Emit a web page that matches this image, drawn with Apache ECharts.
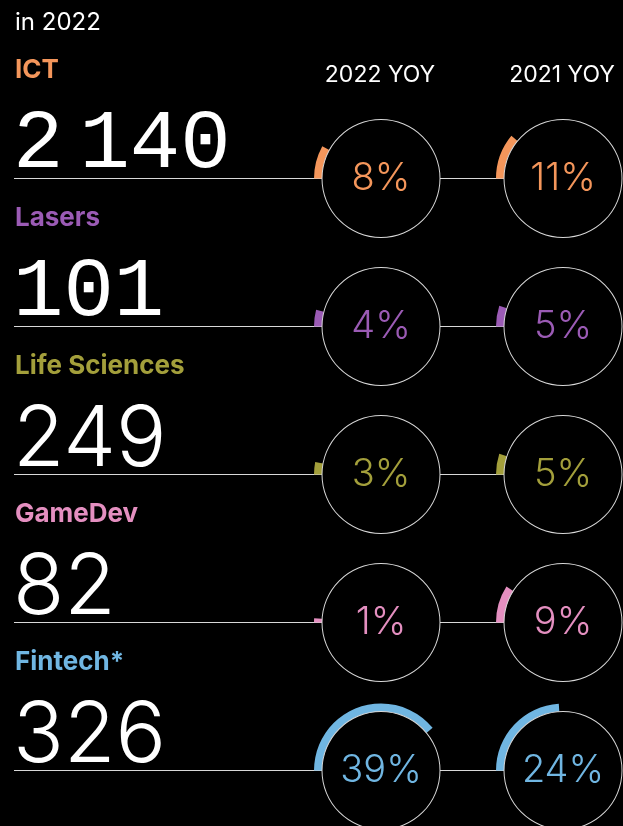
<!DOCTYPE html>
<html>
<head>
<meta charset="utf-8">
<script src="https://cdn.jsdelivr.net/npm/echarts@6/dist/echarts.min.js"></script>
<style>
  html, body { margin: 0; padding: 0; background: #000; }
  #main { width: 623px; height: 826px; }
</style>
</head>
<body>
<div id="main"></div>
<script>
// data
var categories = ['ICT', 'Lasers', 'Life Sciences', 'GameDev', 'Fintech*'];
var totals = [2140, 101, 249, 82, 326];
var yoy2022 = [8, 4, 3, 1, 39];
var yoy2021 = [11, 5, 5, 9, 24];
var columns = ['2022 YOY', '2021 YOY'];
var subtitle = 'in 2022';

var colors = ['#f4965b', '#9b5bb5', '#a39f3b', '#e48fc0', '#70b6e2'];
// the first two totals are set in a mono face, the rest in a light sans
var numberFonts = ['"Liberation Mono"', '"Liberation Mono"', 'Inter', 'Inter', 'Inter'];

var firstLine = 178.5;   // y of the first row's base line
var rowGap = 148;
var colX = [381, 563];
var rIn = 59, rOut = 67;

var myChart = echarts.init(document.getElementById('main'), null, { renderer: 'canvas' });

function fmtTotal(v) {
  var s = String(v);
  if (v >= 1000) {
    // thin gap between thousands
    return '{n|' + s.slice(0, s.length - 3) + '}{g| }{n|' + s.slice(-3) + '}';
  }
  return '{n|' + s + '}';
}

var series = [];
var graphics = [];

graphics.push({
  type: 'text', x: 15, y: 23,
  style: { text: subtitle, fill: '#fff', font: '400 24px Inter', textVerticalAlign: 'middle' }
});
columns.forEach(function (c, j) {
  graphics.push({
    type: 'text', x: colX[j] - 1, y: 75,
    style: { text: c, fill: '#fff', font: '400 23px Inter', textAlign: 'center', textVerticalAlign: 'middle' }
  });
});

categories.forEach(function (name, i) {
  var y = firstLine + i * rowGap;
  var col = colors[i];

  graphics.push({
    type: 'text', x: 15, y: y - 108,
    style: { text: name, fill: col, font: '700 26px Inter', textVerticalAlign: 'middle' }
  });
  graphics.push({
    type: 'text', x: 13, y: y + 8,
    style: {
      text: fmtTotal(totals[i]),
      fill: '#fff',
      textVerticalAlign: 'bottom',
      rich: {
        n: { fontFamily: numberFonts[i], fontSize: 84, fontWeight: i < 2 ? 400 : 300, fill: '#fff' },
        g: { width: 16, fill: '#fff' }
      }
    }
  });
  // base lines: to the first circle, and between the circles
  graphics.push({
    type: 'line', silent: true,
    shape: { x1: 14, y1: y, x2: colX[0] - rIn, y2: y },
    style: { stroke: '#d8d8d8', lineWidth: 1 }
  });
  graphics.push({
    type: 'line', silent: true,
    shape: { x1: colX[0] + rIn, y1: y, x2: colX[1] - rIn, y2: y },
    style: { stroke: '#d8d8d8', lineWidth: 1 }
  });

  [yoy2022[i], yoy2021[i]].forEach(function (v, j) {
    // progress arc starting at 9 o'clock, running clockwise
    series.push({
      type: 'pie', silent: true,
      center: [colX[j], y], radius: [rIn, rOut],
      startAngle: 180, clockwise: true,
      label: { show: false }, labelLine: { show: false },
      data: [
        { value: v, itemStyle: { color: col } },
        { value: 100 - v, itemStyle: { color: 'rgba(0,0,0,0)' } }
      ]
    });
    // thin outline circle with the percent in the middle
    series.push({
      type: 'pie', silent: true,
      center: [colX[j], y], radius: [rIn - 0.5, rIn + 0.5],
      labelLine: { show: false },
      itemStyle: { color: '#d8d8d8' },
      label: {
        show: true, position: 'center', formatter: '{c}%',
        color: col, fontFamily: 'Inter', fontWeight: 300, fontSize: 38
      },
      data: [{ value: v }]
    });
  });
});

var option = {
  backgroundColor: '#000',
  animation: false,
  series: series,
  graphic: graphics
};
myChart.setOption(option);
</script>
</body>
</html>
